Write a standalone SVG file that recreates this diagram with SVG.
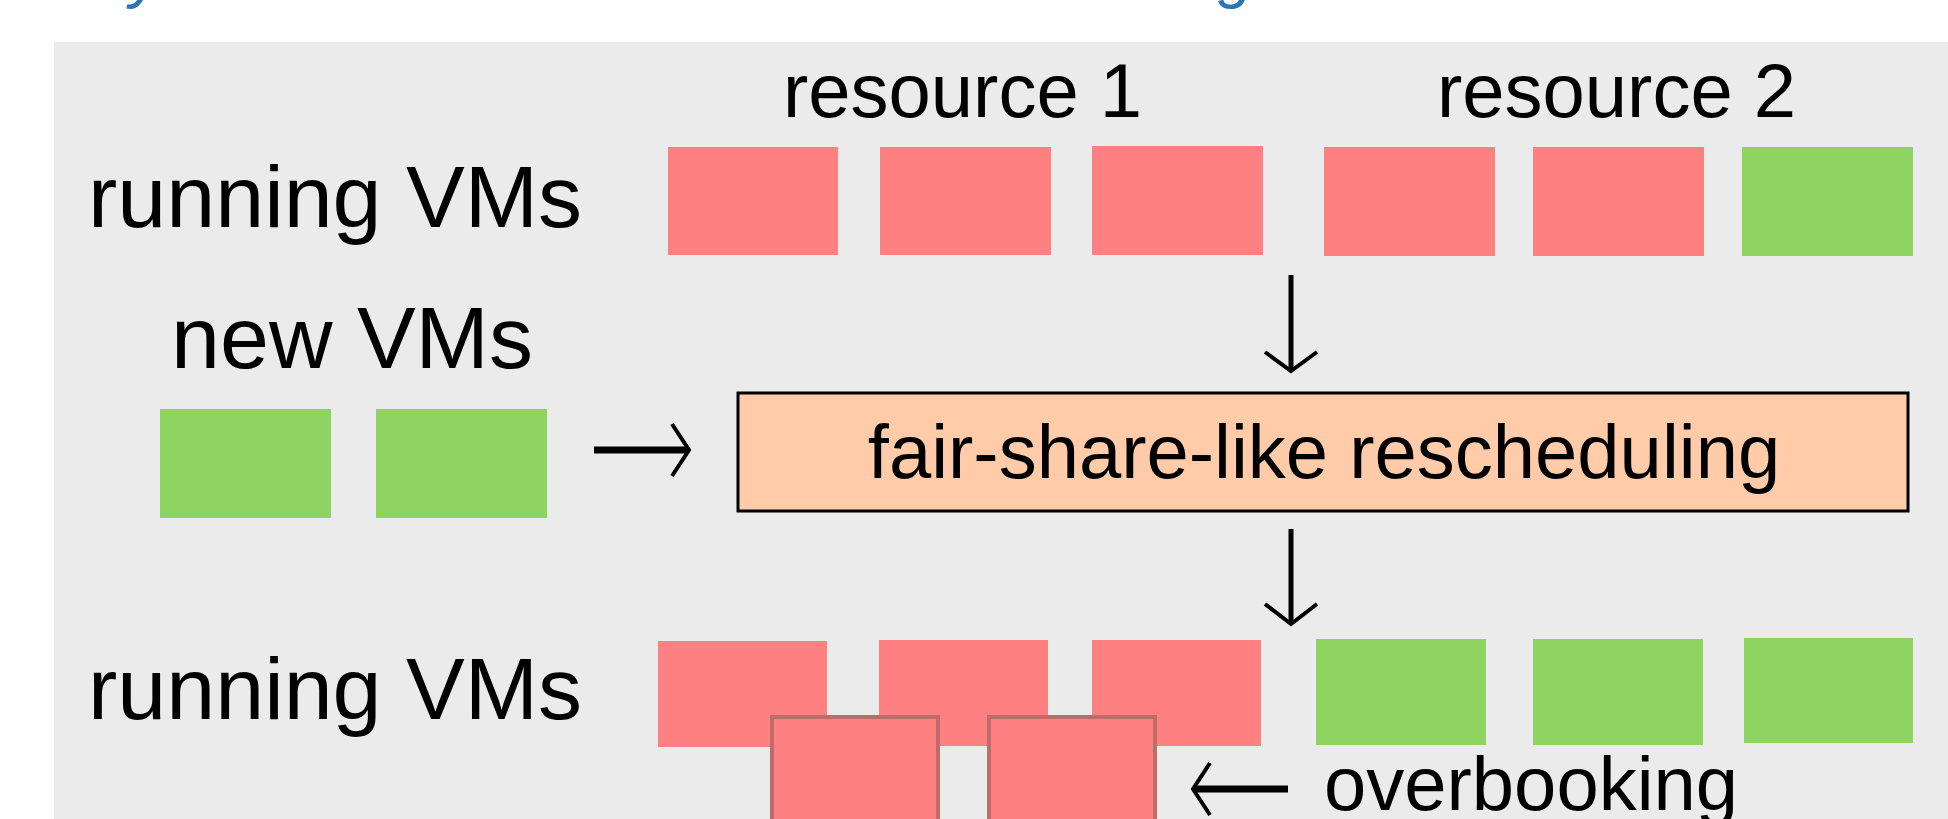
<svg xmlns="http://www.w3.org/2000/svg" width="1948" height="819" viewBox="0 0 1948 819">
  <style>
    .lbl { font-family: "Liberation Sans", Arial, sans-serif; fill: #000; }
    .big { font-size: 88px; }
    .mid { font-size: 76px; }
    .title { font-family: "Liberation Sans", Arial, sans-serif; font-size: 64px; font-style: italic; fill: #2E75B6; }
    .red { fill: #FF8080; }
    .green { fill: #8FD461; }
    .over { fill: #FF8080; stroke: #BD6B6B; stroke-width: 4; }
    .proc { fill: #FFCBA8; stroke: #000; stroke-width: 3; }
    .shaft { stroke: #000; fill: none; stroke-linecap: butt; }
    .head { stroke: #000; fill: none; stroke-width: 4; stroke-linejoin: miter; }
  </style>

  <!-- page title (mostly above the frame) -->
  <g id="title">
    <text class="title" x="130" y="-4">y</text>
    <text class="title" x="1218" y="-4">g</text>
  </g>

  <!-- panel background -->
  <rect x="54" y="42" width="1894" height="777" fill="#EBEBEB"/>

  <!-- row labels -->
  <g id="label-running-top"><text class="lbl big" x="88" y="227">running VMs</text></g>
  <g id="label-new"><text class="lbl big" x="171" y="368">new VMs</text></g>
  <g id="label-running-bottom"><text class="lbl big" x="88" y="719">running VMs</text></g>
  <g id="label-res1"><text class="lbl mid" x="783" y="117">resource 1</text></g>
  <g id="label-res2"><text class="lbl mid" x="1437" y="117">resource 2</text></g>

  <!-- running VMs before rescheduling -->
  <g id="vm-top-1"><rect class="red" x="668" y="147" width="170" height="108"/></g>
  <g id="vm-top-2"><rect class="red" x="880" y="147" width="171" height="108"/></g>
  <g id="vm-top-3"><rect class="red" x="1092" y="146" width="171" height="109"/></g>
  <g id="vm-top-4"><rect class="red" x="1324" y="147" width="171" height="109"/></g>
  <g id="vm-top-5"><rect class="red" x="1533" y="147" width="171" height="109"/></g>
  <g id="vm-top-6"><rect class="green" x="1742" y="147" width="171" height="109"/></g>

  <!-- new VMs -->
  <g id="vm-new-1"><rect class="green" x="160" y="409" width="171" height="109"/></g>
  <g id="vm-new-2"><rect class="green" x="376" y="409" width="171" height="109"/></g>

  <!-- scheduler -->
  <g id="scheduler">
    <rect class="proc" x="738" y="393" width="1170" height="118"/>
    <text class="lbl mid" x="1324" y="478" text-anchor="middle">fair-share-like rescheduling</text>
  </g>

  <!-- running VMs after rescheduling -->
  <g id="vm-bot-1"><rect class="red" x="658" y="641" width="169" height="106"/></g>
  <g id="vm-bot-2"><rect class="red" x="879" y="640" width="169" height="106"/></g>
  <g id="vm-bot-3"><rect class="red" x="1092" y="640" width="169" height="106"/></g>
  <g id="vm-bot-4"><rect class="green" x="1316" y="639" width="170" height="106"/></g>
  <g id="vm-bot-5"><rect class="green" x="1533" y="639" width="170" height="106"/></g>
  <g id="vm-bot-6"><rect class="green" x="1744" y="638" width="169" height="105"/></g>

  <!-- overbooked VMs -->
  <g id="vm-over-1"><rect class="over" x="772" y="717" width="166" height="110"/></g>
  <g id="vm-over-2"><rect class="over" x="989" y="717" width="166" height="110"/></g>

  <g id="label-overbooking"><text class="lbl mid" x="1324" y="810">overbooking</text></g>

  <!-- connectors -->
  <g id="connectors">
    <!-- running VMs -> scheduler -->
    <line class="shaft" x1="1291" y1="275" x2="1291" y2="370" stroke-width="5"/>
    <polyline class="head" points="1265,352 1291,371 1317,352"/>
    <!-- new VMs -> scheduler -->
    <line class="shaft" x1="594" y1="450" x2="688" y2="450" stroke-width="7"/>
    <polyline class="head" points="672,424 689,450 672,476"/>
    <!-- scheduler -> running VMs -->
    <line class="shaft" x1="1291" y1="529" x2="1291" y2="622" stroke-width="5"/>
    <polyline class="head" points="1265,604 1291,624 1317,604"/>
    <!-- overbooking pointer -->
    <line class="shaft" x1="1194" y1="789" x2="1288" y2="789" stroke-width="7"/>
    <polyline class="head" points="1210,763 1193,789 1210,815"/>
  </g>
</svg>
